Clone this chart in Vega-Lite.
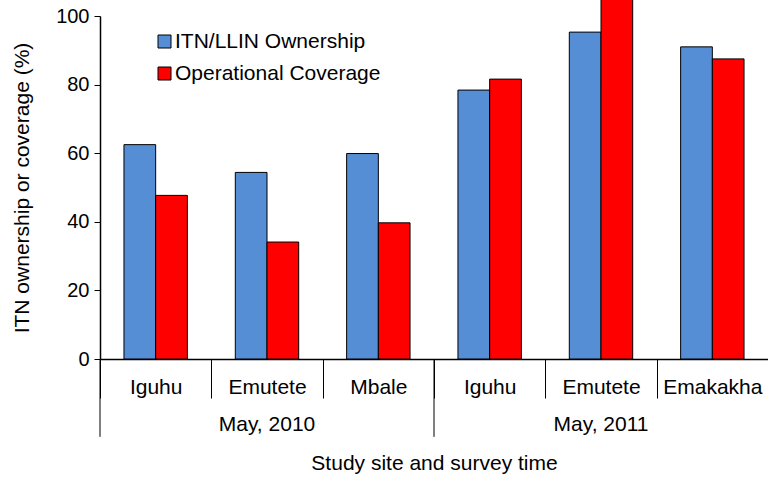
{
  "$schema": "https://vega.github.io/schema/vega-lite/v6.json",
  "width": 668,
  "height": 343,
  "autosize": {"type": "none"},
  "padding": {"left": 100, "top": 16, "right": 0, "bottom": 120},
  "background": "white",
  "config": {
    "font": "Liberation Sans",
    "view": {"stroke": null},
    "axis": {
      "grid": false,
      "labelFont": "Liberation Sans",
      "titleFont": "Liberation Sans",
      "labelColor": "black",
      "titleColor": "black",
      "domainColor": "black",
      "tickColor": "black",
      "labelFontSize": 20,
      "titleFontSize": 21,
      "titleFontWeight": "normal",
      "labelOverlap": false
    },
    "legend": {
      "labelFont": "Liberation Sans",
      "labelFontSize": 21,
      "labelColor": "black",
      "labelLimit": 0
    }
  },
  "datasets": {
    "bars": [
      {"key": "2010|Iguhu", "series": "ITN/LLIN Ownership", "value": 62.5},
      {"key": "2010|Iguhu", "series": "Operational Coverage", "value": 47.7},
      {"key": "2010|Emutete", "series": "ITN/LLIN Ownership", "value": 54.4},
      {"key": "2010|Emutete", "series": "Operational Coverage", "value": 34.1},
      {"key": "2010|Mbale", "series": "ITN/LLIN Ownership", "value": 59.9},
      {"key": "2010|Mbale", "series": "Operational Coverage", "value": 39.7},
      {"key": "2011|Iguhu", "series": "ITN/LLIN Ownership", "value": 78.4},
      {"key": "2011|Iguhu", "series": "Operational Coverage", "value": 81.6},
      {"key": "2011|Emutete", "series": "ITN/LLIN Ownership", "value": 95.3},
      {"key": "2011|Emutete", "series": "Operational Coverage", "value": 106},
      {"key": "2011|Emakakha", "series": "ITN/LLIN Ownership", "value": 91.0},
      {"key": "2011|Emakakha", "series": "Operational Coverage", "value": 87.5}
    ],
    "periods": [
      {"start": "2010|Iguhu", "period": "May, 2010"},
      {"start": "2011|Iguhu", "period": "May, 2011"}
    ]
  },
  "layer": [
    {
      "data": {"name": "bars"},
      "mark": {"type": "bar", "stroke": "black", "strokeWidth": 1},
      "encoding": {
        "x": {
          "field": "key",
          "type": "nominal",
          "scale": {
            "domain": ["2010|Iguhu", "2010|Emutete", "2010|Mbale", "2011|Iguhu", "2011|Emutete", "2011|Emakakha"],
            "paddingInner": 0,
            "paddingOuter": 0
          },
          "axis": {
            "orient": "bottom",
            "title": null,
            "labelExpr": "split(datum.value, '|')[1]",
            "labelAngle": 0,
            "labelFontSize": 21,
            "tickBand": "extent",
            "tickSize": 39,
            "labelPadding": -22,
            "domainWidth": 1.5
          }
        },
        "xOffset": {
          "field": "series",
          "type": "nominal",
          "sort": ["ITN/LLIN Ownership", "Operational Coverage"],
          "scale": {"paddingInner": 0, "paddingOuter": 0.756}
        },
        "y": {
          "field": "value",
          "type": "quantitative",
          "scale": {"domain": [0, 100], "nice": false},
          "axis": {
            "title": "ITN ownership or coverage (%)",
            "values": [0, 20, 40, 60, 80, 100],
            "tickSize": 6,
            "labelPadding": 5,
            "titlePadding": 23,
            "domainWidth": 1.5
          }
        },
        "color": {
          "field": "series",
          "type": "nominal",
          "scale": {
            "domain": ["ITN/LLIN Ownership", "Operational Coverage"],
            "range": ["#558ED5", "#FF0000"]
          },
          "legend": {
            "title": null,
            "orient": "none",
            "legendX": 54,
            "legendY": 15,
            "padding": 0,
            "symbolType": "square",
            "symbolSize": 169,
            "symbolStrokeColor": "black",
            "symbolStrokeWidth": 1,
            "symbolOpacity": 1,
            "labelOffset": 0,
            "labelLimit": 0,
            "rowPadding": 10
          }
        }
      }
    },
    {
      "data": {"name": "periods"},
      "mark": {"type": "rule", "color": "black", "strokeWidth": 1},
      "encoding": {
        "x": {
          "field": "start",
          "type": "nominal",
          "bandPosition": 0,
          "scale": {
            "domain": ["2010|Iguhu", "2010|Emutete", "2010|Mbale", "2011|Iguhu", "2011|Emutete", "2011|Emakakha"]
          },
          "axis": {
            "orient": "bottom",
            "title": "Study site and survey time",
            "labelExpr": "datum.value == '2010|Emutete' ? 'May, 2010' : datum.value == '2011|Emutete' ? 'May, 2011' : ''",
            "labelAngle": 0,
            "labelFontSize": 21,
            "domain": false,
            "ticks": false,
            "labelPadding": 54,
            "titlePadding": 18
          }
        },
        "y": {"datum": 0, "scale": {"domain": [0, 100], "nice": false}},
        "y2": {"datum": -22.7}
      }
    }
  ],
  "resolve": {"axis": {"x": "independent"}}
}
